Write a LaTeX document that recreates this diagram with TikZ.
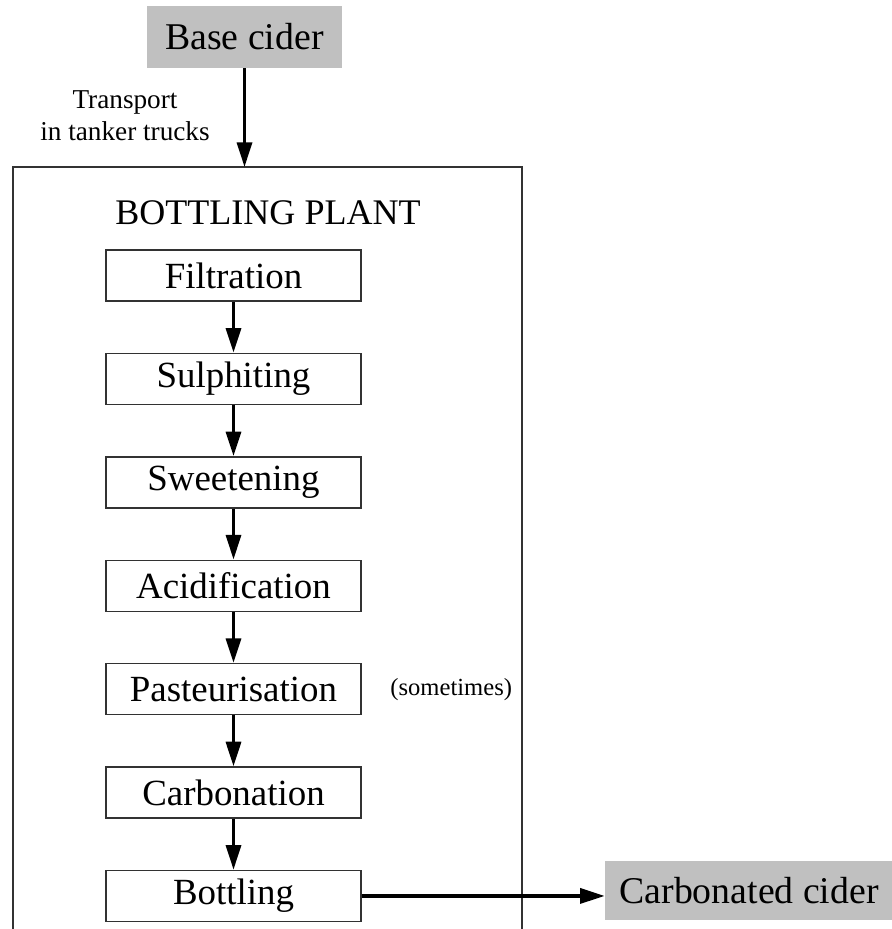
\documentclass[tikz,border=0pt]{standalone}
\usepackage{fontspec}
\setmainfont{Liberation Serif}
\usetikzlibrary{arrows.meta, positioning, calc}
\definecolor{cidergray}{RGB}{192,192,192}
\definecolor{edgegray}{RGB}{50,50,50}

\begin{document}
\begin{tikzpicture}[
    stepbox/.style={draw=edgegray, line width=0.8pt, rectangle, inner sep=0pt,
                    minimum width=5.1cm, minimum height=1.02cm, font=\fontsize{21}{25}\selectfont},
    ciderbox/.style={fill=cidergray, rectangle, inner sep=0pt, font=\fontsize{21.5}{25}\selectfont},
    flow/.style={-{Triangle[length=14pt, width=8.5pt]}, line width=2pt},
    node distance=1.02cm
]
    \useasboundingbox (0,0) rectangle (17.84,-18.58);

    % raw material
    \node[ciderbox, minimum width=3.9cm, minimum height=1.24cm] (base) at (4.89,-0.74) {Base cider};

    % plant outline, open at the bottom
    \draw[edgegray, line width=0.8pt] (0.26,-18.7) -- (0.26,-3.34) -- (10.44,-3.34) -- (10.44,-18.7);
    \coordinate (plant) at (4.89,-3.34);
    \node[font=\fontsize{20.5}{24}\selectfont] (title) at (5.36,-4.26) {BOTTLING PLANT};

    \draw[flow] (base) -- (plant);
    \node[align=center, font=\fontsize{15.5}{18}\selectfont] (truck) at (2.5,-2.32) {Transport\\in tanker trucks};

    % process steps
    \node[stepbox] (filt) at (4.67,-5.51) {Filtration};
    \node[stepbox, below=of filt] (sulph) {Sulphiting};
    \node[stepbox, below=of sulph] (sweet) {Sweetening};
    \node[stepbox, below=of sweet] (acid) {Acidification};
    \node[stepbox, below=of acid] (past) {Pasteurisation};
    \node[stepbox, below=of past] (carbo) {Carbonation};
    \node[stepbox, below=of carbo] (bottle) {Bottling};

    \node[right=0.45cm of past, font=\fontsize{14}{17}\selectfont] (note) {(sometimes)};

    \foreach \a/\b in {filt/sulph, sulph/sweet, sweet/acid, acid/past, past/carbo, carbo/bottle}
        \draw[flow] (\a) -- (\b);

    % product
    \node[ciderbox, minimum width=5.76cm, minimum height=1.18cm, right=4.86cm of bottle, yshift=0.1cm] (product) {Carbonated cider};
    \draw[flow] (bottle.east) -- (product.west |- bottle.east);
\end{tikzpicture}
\end{document}
